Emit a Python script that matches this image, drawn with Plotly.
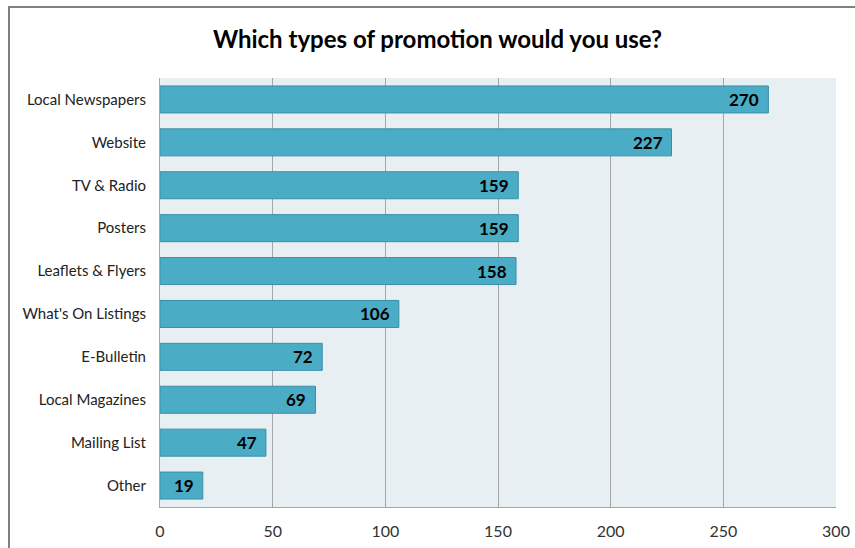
import plotly.graph_objects as go

categories = ["Local Newspapers", "Website", "TV & Radio", "Posters", "Leaflets & Flyers",
              "What's On Listings", "E-Bulletin", "Local Magazines", "Mailing List", "Other"]
values = [270, 227, 159, 159, 158, 106, 72, 69, 47, 19]
x_ticks = [0, 50, 100, 150, 200, 250, 300]

W, H = 855, 548
ml, mr, mt, mb = 160, 19, 78, 41
pw, ph = W - ml - mr, H - mt - mb
FONT = "Lato, Open Sans, sans-serif"

fig = go.Figure(go.Bar(
    y=categories, x=values, orientation="h",
    marker=dict(color="#4BACC6", line=dict(color="#3A8FA8", width=1)),
    hoverinfo="x+y",
))

for c, v in zip(categories, values):
    fig.add_annotation(x=v, y=c, xref="x", yref="y", text=f"<b>{v}</b>",
                       showarrow=False, xanchor="right", xshift=-7,
                       font=dict(family=FONT, size=17, color="black"))

fig.update_layout(
    width=W, height=H,
    margin=dict(l=ml, r=mr, t=mt, b=mb, autoexpand=False),
    paper_bgcolor="white", plot_bgcolor="#E8EFF2",
    bargap=0.37,
    showlegend=False,
    font=dict(family=FONT, color="#222222"),
    title=dict(text="<b>Which types of promotion would you use?</b>",
               x=437.5 / W, xanchor="center", y=1 - 40 / H, yanchor="middle",
               font=dict(size=24, color="black", family=FONT)),
    xaxis=dict(range=[0, 300], tickvals=x_ticks, showgrid=True, gridcolor="#A6A6A6", gridwidth=1,
               zeroline=False, showline=True, linecolor="#A6A6A6", linewidth=1, automargin=False,
               ticklabeloverflow="allow",
               ticks="", tickfont=dict(size=16, color="#333333"), ticklabelstandoff=10),
    yaxis=dict(categoryorder="array", categoryarray=categories[::-1], autorange=True,
               showline=True, linecolor="#A6A6A6", linewidth=1, showgrid=False, automargin=False,
               ticks="", tickfont=dict(size=15, color="#222222"), ticklabelstandoff=10),
    shapes=[
        dict(type="line", xref="paper", yref="paper",
             x0=-(ml - 9) / pw, x1=-(ml - 9) / pw, y0=-mb / ph, y1=1 + (mt - 6) / ph,
             line=dict(color="#808080", width=2)),
        dict(type="line", xref="paper", yref="paper",
             x0=-(ml - 8) / pw, x1=1 + mr / pw, y0=1 + (mt - 7) / ph, y1=1 + (mt - 7) / ph,
             line=dict(color="#808080", width=2)),
    ],
)

fig.write_html("out.html", config={"displayModeBar": False},
               post_script="document.body.style.margin='0px';")
